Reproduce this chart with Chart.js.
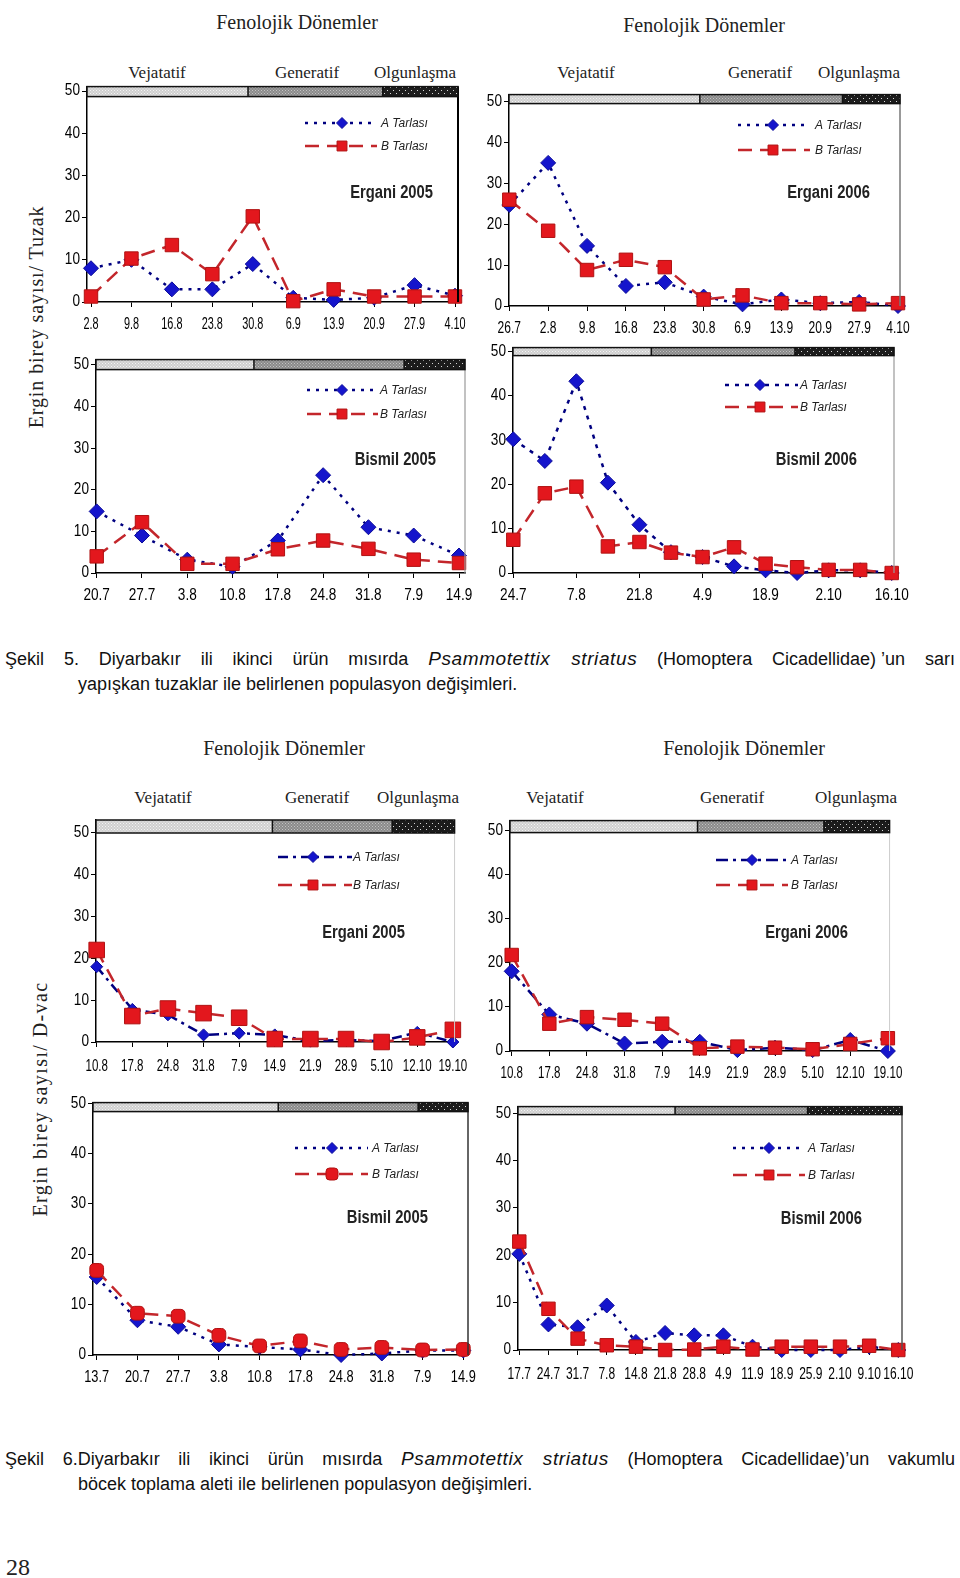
<!DOCTYPE html>
<html lang="tr">
<head>
<meta charset="utf-8">
<title>Psammotettix striatus populasyon değişimleri</title>
<script src="https://cdn.jsdelivr.net/npm/chart.js@4/dist/chart.umd.min.js"></script>
<style>
body { margin: 0; background: #fff; }
#page { position: relative; width: 960px; height: 1578px; overflow: hidden; background: #fff; }
#page canvas { position: absolute; }
.t { position: absolute; white-space: nowrap; line-height: 1; transform: translate(-50%, -50%); color: #222; }
.serif { font-family: "Liberation Serif", "DejaVu Serif", serif; }
.hdr { font-size: 20px; }
.ph { font-size: 17px; }
.ytitle { font-size: 20px; transform: translate(-50%, -50%) rotate(-90deg); }
.cap { position: absolute; white-space: nowrap; font-family: "Liberation Sans", Arial, sans-serif; font-size: 18px; line-height: 22px; color: #111; }
.cap i { font-size: 19px; letter-spacing: 0.6px; }
</style>
</head>
<body>
<div id="page">
  <div class="t serif hdr" style="left:297px; top:22px">Fenolojik Dönemler</div>
  <div class="t serif hdr" style="left:704px; top:25px">Fenolojik Dönemler</div>
  <div class="t serif ph" style="left:157px; top:72px">Vejatatif</div>
  <div class="t serif ph" style="left:307px; top:72px">Generatif</div>
  <div class="t serif ph" style="left:415px; top:72px">Olgunlaşma</div>
  <div class="t serif ph" style="left:586px; top:72px">Vejatatif</div>
  <div class="t serif ph" style="left:760px; top:72px">Generatif</div>
  <div class="t serif ph" style="left:859px; top:72px">Olgunlaşma</div>
  <div class="t serif ytitle" style="left:36px; top:317px; letter-spacing:0.9px">Ergin birey sayısı/ Tuzak</div>

  <div class="cap" style="left:5px; top:648px; width:950px; text-align:justify; text-align-last:justify">Şekil 5. Diyarbakır ili ikinci ürün mısırda <i>Psammotettix striatus</i> (Homoptera Cicadellidae)<span style="margin-left:5px">’un</span> sarı</div>
  <div class="cap" style="left:78px; top:673px">yapışkan tuzaklar ile belirlenen populasyon değişimleri.</div>

  <div class="t serif hdr" style="left:284px; top:748px">Fenolojik Dönemler</div>
  <div class="t serif hdr" style="left:744px; top:748px">Fenolojik Dönemler</div>
  <div class="t serif ph" style="left:163px; top:797px">Vejatatif</div>
  <div class="t serif ph" style="left:317px; top:797px">Generatif</div>
  <div class="t serif ph" style="left:418px; top:797px">Olgunlaşma</div>
  <div class="t serif ph" style="left:555px; top:797px">Vejatatif</div>
  <div class="t serif ph" style="left:732px; top:797px">Generatif</div>
  <div class="t serif ph" style="left:856px; top:797px">Olgunlaşma</div>
  <div class="t serif ytitle" style="left:40px; top:1099px; letter-spacing:1.4px">Ergin birey sayısı/ D-vac</div>

  <div class="cap" style="left:5px; top:1448px; width:950px; text-align:justify; text-align-last:justify">Şekil 6.Diyarbakır ili ikinci ürün mısırda <i>Psammotettix striatus</i> (Homoptera Cicadellidae)’un vakumlu</div>
  <div class="cap" style="left:78px; top:1473px">böcek toplama aleti ile belirlenen populasyon değişimleri.</div>

  <div class="t serif" style="left:18px; top:1567px; font-size:24px">28</div>
</div>

<script>
const yTicks = [0, 10, 20, 30, 40, 50];
const seriesNames = ['A Tarlası', 'B Tarlası'];

// Şekil 5 - sarı yapışkan tuzak
const tuzakErgani05Dates = ['2.8', '9.8', '16.8', '23.8', '30.8', '6.9', '13.9', '20.9', '27.9', '4.10'];
const tuzakErgani05A = [8, 10, 3, 3, 9, 1, 0.5, 1, 4, 1.5];
const tuzakErgani05B = [1.3, 10.3, 13.5, 6.6, 20.3, 0.2, 3, 1.3, 1.3, 1.3];

const tuzakErgani06Dates = ['26.7', '2.8', '9.8', '16.8', '23.8', '30.8', '6.9', '13.9', '20.9', '27.9', '4.10'];
const tuzakErgani06A = [24.7, 35, 14.7, 4.9, 5.8, 2.3, 0.4, 1.6, 0.7, 1, 0];
const tuzakErgani06B = [26, 18.4, 8.8, 11.3, 9.5, 1.6, 2.6, 0.7, 0.7, 0.4, 0.7];

const tuzakBismil05Dates = ['20.7', '27.7', '3.8', '10.8', '17.8', '24.8', '31.8', '7.9', '14.9'];
const tuzakBismil05A = [14.8, 9, 3.2, 1.5, 7.8, 23.5, 11, 9, 4.2];
const tuzakBismil05B = [4, 12.2, 2.2, 2.2, 5.7, 7.8, 5.8, 3.2, 2.4];

const tuzakBismil06Dates = ['24.7', '31.7', '7.8', '14.8', '21.8', '28.8', '4.9', '11.9', '18.9', '25.9', '2.10', '9.10', '16.10'];
const tuzakBismil06A = [30.2, 25.3, 43.3, 20.4, 10.9, 4.7, 3.6, 1.5, 0.6, 0, 0.6, 0.6, 0];
const tuzakBismil06B = [7.5, 18, 19.5, 6, 7, 4.6, 3.6, 5.8, 2.1, 1.3, 0.7, 0.7, 0];

// Şekil 6 - D-vac
const dvacErgani05Dates = ['10.8', '17.8', '24.8', '31.8', '7.9', '14.9', '21.9', '28.9', '5.10', '12.10', '19.10'];
const dvacErgani05A = [18, 7.8, 6.5, 1.7, 2.1, 1.7, 0.2, 0.5, 0.2, 2.3, 0];
const dvacErgani05B = [22, 6.2, 8, 6.9, 5.8, 0.7, 0.7, 0.7, 0, 1.1, 2.9];

const dvacErgani06Dates = ['10.8', '17.8', '24.8', '31.8', '7.9', '14.9', '21.9', '28.9', '5.10', '12.10', '19.10'];
const dvacErgani06A = [18.1, 8.3, 6.2, 1.7, 2.1, 2.1, 0.2, 0.75, 0.2, 2.5, 0];
const dvacErgani06B = [21.8, 6.2, 7.7, 7.1, 6.2, 0.6, 1, 0.75, 0.4, 1.6, 2.9];

const dvacBismil05Dates = ['13.7', '20.7', '27.7', '3.8', '10.8', '17.8', '24.8', '31.8', '7.9', '14.9'];
const dvacBismil05A = [15.5, 6.9, 5.6, 2.1, 1.6, 1.1, 0, 0.3, 0.9, 0.9];
const dvacBismil05B = [16.8, 8.3, 7.7, 3.9, 1.8, 2.8, 1.1, 1.5, 1, 1.1];

const dvacBismil06Dates = ['17.7', '24.7', '31.7', '7.8', '14.8', '21.8', '28.8', '4.9', '11.9', '18.9', '25.9', '2.10', '9.10', '16.10'];
const dvacBismil06A = [20.3, 5.4, 4.8, 9.4, 1.7, 3.6, 3.1, 3.1, 0.7, 0, 0, 0, 0.7, 0];
const dvacBismil06B = [22.9, 8.7, 2.4, 1, 0.7, 0, 0.1, 0.7, 0.1, 0.7, 0.7, 0.7, 0.9, 0];

// page layout of the eight panels (page pixels)
const panels = [
    { name: 'Ergani 2005', dates: tuzakErgani05Dates, a: tuzakErgani05A, b: tuzakErgani05B,
      axisX: 87, rightX: 458, firstX: 91, lastX: 455, bandTop: 85, bandH: 10, y50: 89.5, zeroY: 302,
      cuts: [0.434, 0.797], frame: '#000', frameW: 2, aDash: [3, 6], bDash: [14, 8], xDy: 23, xSq: 0.68,
      leg: { x1: 305, x2: 377, xm: 342, tx: 381, yA: 123, yB: 146 }, nameX: 433, nameY: 193 },
    { name: 'Ergani 2006', dates: tuzakErgani06Dates, a: tuzakErgani06A, b: tuzakErgani06B,
      axisX: 509, rightX: 900, firstX: 509.3, lastX: 898, bandTop: 93, bandH: 9, y50: 100, zeroY: 305.7,
      cuts: [0.488, 0.853], frame: '#777', frameW: 1.5, aDash: [3, 6], bDash: [14, 8], xDy: 23, xSq: 0.75,
      leg: { x1: 738, x2: 810, xm: 773, tx: 815, yA: 125, yB: 150 }, nameX: 870, nameY: 193 },
    { name: 'Bismil 2005', dates: tuzakBismil05Dates, a: tuzakBismil05A, b: tuzakBismil05B,
      axisX: 96, rightX: 465, firstX: 96.7, lastX: 459, bandTop: 358, bandH: 10, y50: 363.3, zeroY: 572.7,
      cuts: [0.428, 0.835], frame: '#999', frameW: 1.2, aDash: [3, 6], bDash: [14, 8], xDy: 23, xSq: 0.85,
      leg: { x1: 307, x2: 378, xm: 342, tx: 380, yA: 390, yB: 414 }, nameX: 436, nameY: 460 },
    { name: 'Bismil 2006', dates: tuzakBismil06Dates, a: tuzakBismil06A, b: tuzakBismil06B, every: 2,
      axisX: 513, rightX: 894, firstX: 513.3, lastX: 891.7, bandTop: 346, bandH: 8, y50: 350, zeroY: 572.7,
      cuts: [0.363, 0.740], frame: '#999', frameW: 1.2, aDash: [4, 6], bDash: [14, 8], xDy: 23, xSq: 0.85,
      leg: { x1: 725, x2: 798, xm: 760, tx: 800, yA: 385, yB: 407 }, nameX: 857, nameY: 460 },
    { name: 'Ergani 2005', dates: dvacErgani05Dates, a: dvacErgani05A, b: dvacErgani05B,
      axisX: 96, rightX: 455, firstX: 96.7, lastX: 453.3, bandTop: 818, bandH: 13, y50: 831, zeroY: 1042.3,
      cuts: [0.492, 0.826], frame: '#ccc', frameW: 1, aDash: [10, 5, 3, 5], bDash: [14, 8], ra: 6, rb: 11,
      xDy: 25, xSq: 0.72,
      leg: { x1: 278, x2: 352, xm: 313, tx: 353, yA: 857, yB: 885 }, nameX: 405, nameY: 933 },
    { name: 'Ergani 2006', dates: dvacErgani06Dates, a: dvacErgani06A, b: dvacErgani06B,
      axisX: 510, rightX: 890, firstX: 511.7, lastX: 888.3, bandTop: 819, bandH: 12, y50: 829.3, zeroY: 1051,
      cuts: [0.494, 0.827], frame: '#ccc', frameW: 1, aDash: [12, 5, 3, 5], bDash: [14, 8], xDy: 23, xSq: 0.72,
      leg: { x1: 716, x2: 788, xm: 752, tx: 791, yA: 860, yB: 885 }, nameX: 848, nameY: 933 },
    { name: 'Bismil 2005', dates: dvacBismil05Dates, a: dvacBismil05A, b: dvacBismil05B, bStyle: 'rectRounded',
      axisX: 93, rightX: 468, firstX: 96.7, lastX: 463.3, bandTop: 1101, bandH: 9, y50: 1101.7, zeroY: 1355,
      cuts: [0.494, 0.867], frame: '#333', frameW: 1.5, aDash: [3, 6], bDash: [14, 8], rb: 8, xDy: 23, xSq: 0.8,
      leg: { x1: 295, x2: 368, xm: 332, tx: 372, yA: 1148, yB: 1174 }, nameX: 428, nameY: 1218 },
    { name: 'Bismil 2006', dates: dvacBismil06Dates, a: dvacBismil06A, b: dvacBismil06B,
      axisX: 518, rightX: 902, firstX: 519.3, lastX: 898.3, bandTop: 1105, bandH: 8, y50: 1111.7, zeroY: 1350,
      cuts: [0.409, 0.754], frame: '#555', frameW: 1.5, aDash: [3, 6], bDash: [14, 8], xDy: 25, xSq: 0.75,
      leg: { x1: 733, x2: 805, xm: 769, tx: 808, yA: 1148, yB: 1175 }, nameX: 862, nameY: 1219 }
];

const tickFont = { family: '"Liberation Sans", Arial, sans-serif', size: 16 };
const blue = { line: '#000080', fill: '#1515cc', edge: '#0b0b99' };
const red = { line: '#c3262b', fill: '#e3171d', edge: '#b01212' };

function dotPattern(ctx, bg, dot, step) {
    const c = document.createElement('canvas');
    c.width = step; c.height = step;
    const g = c.getContext('2d');
    g.fillStyle = bg;
    g.fillRect(0, 0, step, step);
    g.fillStyle = dot;
    g.fillRect(0, 0, 1, 1);
    g.fillRect(step / 2, step / 2, 1, 1);
    return ctx.createPattern(c, 'repeat');
}

// squeezed text, the scan uses a narrow face
function narrowText(ctx, text, x, y, sq) {
    ctx.save();
    ctx.translate(x, y);
    ctx.scale(sq, 1);
    ctx.fillText(text, 0, 0);
    ctx.restore();
}

// tick labels, phenology band, right frame, legend and panel name
const panelDecor = {
    id: 'panelDecor',
    afterDraw(chart, args, o) {
        const ctx = chart.ctx;
        const a = chart.chartArea;
        const w = a.right - a.left;
        const xs = chart.scales.x, ys = chart.scales.y;
        ctx.save();

        ctx.fillStyle = '#000';
        ctx.font = '16px "Liberation Sans", Arial, sans-serif';
        ctx.textBaseline = 'middle';
        ctx.textAlign = 'center';
        xs.ticks.forEach(t => {
            narrowText(ctx, o.dates[t.value], xs.getPixelForValue(t.value), a.bottom + o.xDy, o.xSq);
        });
        ctx.textAlign = 'right';
        ys.ticks.forEach(t => {
            narrowText(ctx, String(t.value), a.left - 7, ys.getPixelForValue(t.value), 0.85);
        });

        ctx.strokeStyle = o.frame;
        ctx.lineWidth = o.frameW;
        ctx.beginPath();
        ctx.moveTo(a.right, a.top);
        ctx.lineTo(a.right, a.bottom);
        ctx.stroke();

        const fills = [
            dotPattern(ctx, '#cfcfcf', '#f4f4f4', 3),
            dotPattern(ctx, '#8a8a8a', '#c4c4c4', 3),
            dotPattern(ctx, '#1c1c1c', '#d8d8d8', 6)
        ];
        const cuts = [0, o.cuts[0], o.cuts[1], 1];
        for (let i = 0; i < 3; i++) {
            const x0 = a.left + w * cuts[i];
            const x1 = a.left + w * cuts[i + 1];
            ctx.fillStyle = fills[i];
            ctx.fillRect(x0, a.top, x1 - x0, o.bandH);
        }
        ctx.strokeStyle = '#111';
        ctx.lineWidth = 1.5;
        ctx.strokeRect(a.left, a.top, w, o.bandH);
        ctx.beginPath();
        [o.cuts[0], o.cuts[1]].forEach(c => {
            ctx.moveTo(a.left + w * c, a.top);
            ctx.lineTo(a.left + w * c, a.top + o.bandH);
        });
        ctx.stroke();

        // legend
        const L = o.leg;
        const rows = [
            { y: L.yA, col: blue, dash: o.aDash, style: 'rectRot', r: 5.5, text: seriesNames[0] },
            { y: L.yB, col: red, dash: o.bDash, style: o.bStyle, r: 7, text: seriesNames[1] }
        ];
        rows.forEach(row => {
            const y = row.y - o.top;
            ctx.strokeStyle = row.col.line;
            ctx.lineWidth = 2.5;
            ctx.setLineDash(row.dash);
            ctx.beginPath();
            ctx.moveTo(L.x1 - o.left, y);
            ctx.lineTo(L.x2 - o.left, y);
            ctx.stroke();
            ctx.setLineDash([]);
            ctx.fillStyle = row.col.fill;
            ctx.strokeStyle = row.col.edge;
            ctx.lineWidth = 1;
            Chart.helpers.drawPoint(ctx, { pointStyle: row.style, radius: row.r, rotation: 0, borderWidth: 1 }, L.xm - o.left, y);
            ctx.fillStyle = '#222';
            ctx.font = 'italic 12px "Liberation Sans", Arial, sans-serif';
            ctx.textBaseline = 'middle';
            ctx.textAlign = 'left';
            ctx.fillText(row.text, L.tx - o.left, y + 1);
        });

        ctx.fillStyle = '#222';
        ctx.font = 'bold 18px "Liberation Sans", Arial, sans-serif';
        ctx.textAlign = 'right';
        ctx.textBaseline = 'middle';
        narrowText(ctx, o.name, o.nameX - o.left, o.nameY - o.top, 0.82);
        ctx.restore();
    }
};

const page = document.getElementById('page');

panels.forEach(p => {
    const yAxisW = 45, xAxisH = 32, padTop = 10, padRight = 24;
    const plotL = Math.round(p.axisX), plotR = Math.round(p.rightX);
    const left = plotL - yAxisW;
    const top = Math.round(p.bandTop) - padTop;
    const width = plotR + padRight - left;
    const height = Math.round(p.zeroY) + xAxisH - top;

    const cv = document.createElement('canvas');
    cv.width = width;
    cv.height = height;
    cv.style.left = left + 'px';
    cv.style.top = top + 'px';
    page.appendChild(cv);

    const n = p.dates.length;
    const perCat = (p.lastX - p.firstX) / (n - 1);
    const xmin = -(p.firstX - p.axisX) / perCat;
    const xmax = (n - 1) + (p.rightX - p.lastX) / perCat;
    const perUnit = (p.zeroY - p.y50) / 50;
    const ymax = (p.zeroY - p.bandTop) / perUnit;
    const every = p.every || 1;

    new Chart(cv.getContext('2d'), {
        type: 'line',
        data: {
            datasets: [{
                label: seriesNames[0],
                data: p.a.map((v, i) => ({ x: i, y: v })),
                borderColor: blue.line,
                borderWidth: 2.5,
                borderDash: p.aDash,
                pointStyle: 'rectRot',
                pointRadius: p.ra || 7.5,
                pointBackgroundColor: blue.fill,
                pointBorderColor: blue.edge,
                pointBorderWidth: 1,
                order: 1,
                clip: false
            }, {
                label: seriesNames[1],
                data: p.b.map((v, i) => ({ x: i, y: v })),
                borderColor: red.line,
                borderWidth: 2.5,
                borderDash: p.bDash,
                pointStyle: p.bStyle || 'rect',
                pointRadius: p.rb || 9.5,
                pointBackgroundColor: red.fill,
                pointBorderColor: red.edge,
                pointBorderWidth: 1,
                order: 0,
                clip: false
            }]
        },
        options: {
            responsive: false,
            animation: false,
            layout: { padding: { top: padTop, right: padRight, left: 0, bottom: 0 } },
            scales: {
                x: {
                    type: 'linear',
                    bounds: 'data',
                    min: xmin,
                    max: xmax,
                    afterBuildTicks: s => { s.ticks = p.dates.map((d, i) => ({ value: i })).filter((t, i) => i % every === 0); },
                    afterFit: s => { s.height = xAxisH; },
                    ticks: { autoSkip: false, maxRotation: 0, padding: 6, color: 'rgba(0,0,0,0)', font: tickFont,
                             callback: v => p.dates[v] ?? '' },
                    grid: { display: true, drawOnChartArea: false, drawTicks: true, tickLength: 5, color: '#000' },
                    border: { display: true, color: '#000', width: 1.5 }
                },
                y: {
                    bounds: 'data',
                    min: 0,
                    max: ymax,
                    afterBuildTicks: s => { s.ticks = yTicks.map(v => ({ value: v })); },
                    afterFit: s => { s.width = yAxisW; },
                    ticks: { padding: 2, color: 'rgba(0,0,0,0)', font: tickFont },
                    grid: { drawOnChartArea: false, drawTicks: true, tickLength: 5, color: '#000' },
                    border: { display: true, color: '#000', width: 1.5 }
                }
            },
            plugins: {
                legend: { display: false },
                tooltip: { enabled: false },
                panelDecor: Object.assign({}, p, { left: left, top: top, bStyle: p.bStyle || 'rect' })
            }
        },
        plugins: [panelDecor]
    });
});
</script>
</body>
</html>
